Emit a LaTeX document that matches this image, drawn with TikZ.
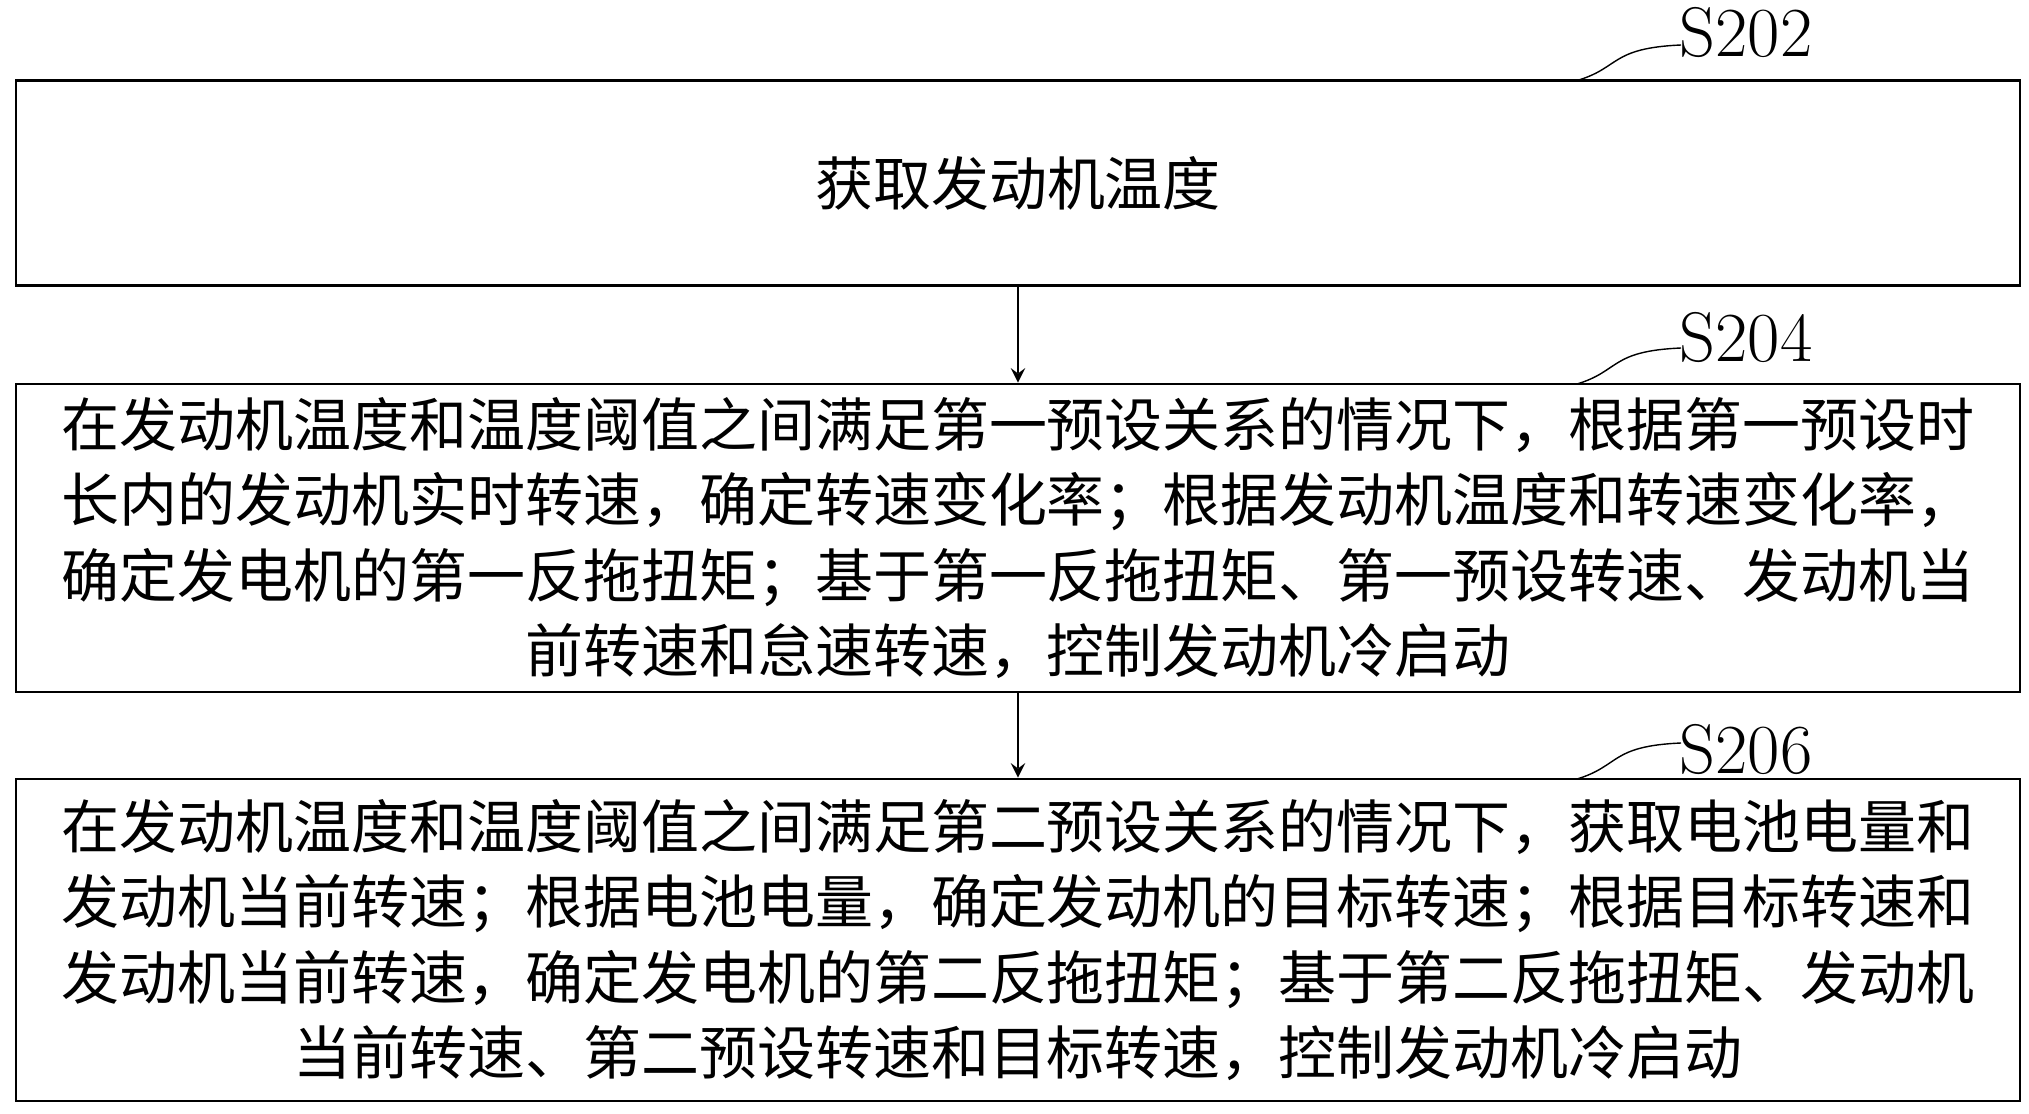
\documentclass[tikz,border=0pt]{standalone}
\usepackage{fontspec}
\newfontfamily\cjk{Noto Sans CJK SC}
\usetikzlibrary{positioning}
\begin{document}
\begin{tikzpicture}[every text node part/.style={align=center}, >=stealth]
			\tikzstyle{stepbox} = [draw, thick, rectangle, minimum width = 20.04cm, inner sep = 0pt, font = \cjk\fontsize{16.5}{21.5}\selectfont]
			\tikzstyle{lbl} = [font = \fontsize{20}{24}\selectfont]
			\useasboundingbox (0, 0) rectangle (20.29, 11.13);
			\path (10.18, 9.30) node[stepbox, minimum height = 2.05cm] (s202) {获取发动机温度};
			\path (10.18, 5.75) node[stepbox, minimum height = 3.08cm] (s204) {在发动机温度和温度阈值之间满足第一预设关系的情况下，根据第一预设时\\长内的发动机实时转速，确定转速变化率；根据发动机温度和转速变化率，\\确定发电机的第一反拖扭矩；基于第一反拖扭矩、第一预设转速、发动机当\\前转速和怠速转速，控制发动机冷启动};
			\path (10.18, 1.73) node[stepbox, minimum height = 3.22cm] (s206) {在发动机温度和温度阈值之间满足第二预设关系的情况下，获取电池电量和\\发动机当前转速；根据电池电量，确定发动机的目标转速；根据目标转速和\\发动机当前转速，确定发电机的第二反拖扭矩；基于第二反拖扭矩、发动机\\当前转速、第二预设转速和目标转速，控制发动机冷启动};

			\path (17.46, 10.81) node[lbl] (l202) {S202};
			\path (17.46, 7.76) node[lbl] (l204) {S204};
			\path (17.46, 3.64) node[lbl] (l206) {S206};

			\path[draw] (15.77, 10.325) .. controls (16.2, 10.45) and (16.1, 10.65) .. (16.81, 10.68);
			\path[draw] (15.77, 7.29) .. controls (16.2, 7.42) and (16.1, 7.62) .. (16.81, 7.65);
			\path[draw] (15.77, 3.34) .. controls (16.2, 3.47) and (16.1, 3.67) .. (16.81, 3.70);

			\path[draw, thick, ->] (s202) -- (s204);
			\path[draw, thick, ->] (s204) -- (s206);
		\end{tikzpicture}
\end{document}
